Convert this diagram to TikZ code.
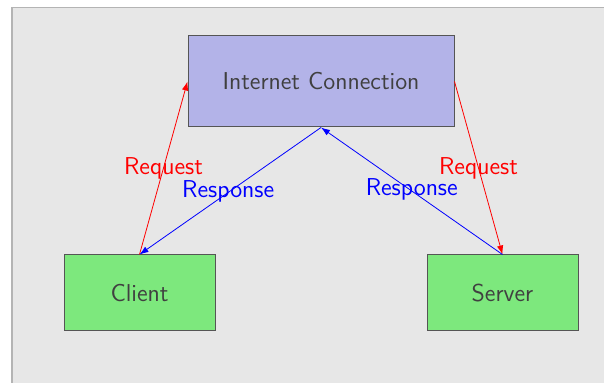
\documentclass[tikz,border=0pt]{standalone}
\usetikzlibrary{arrows.meta}
\definecolor{bgfill}{HTML}{E7E7E7}
\definecolor{bgline}{HTML}{B4B4B4}
\definecolor{netfill}{HTML}{B3B3E8}
\definecolor{hostfill}{HTML}{7DE87D}
\definecolor{boxline}{HTML}{555555}
\definecolor{boxtext}{HTML}{404040}
\begin{document}
\begin{tikzpicture}[x=0.5pt,y=-0.5pt,
  box/.style={draw=boxline,line width=0.5pt,inner sep=0pt,text=boxtext,
    font=\sffamily\fontsize{12.2}{14}\selectfont},
  netbox/.style={box,fill=netfill,minimum width=133pt,minimum height=45.5pt},
  hostbox/.style={box,fill=hostfill,minimum width=75.5pt,minimum height=38pt},
  req/.style={draw=red,line width=0.4pt,-{Latex[length=4.5pt,width=3.2pt]}},
  resp/.style={draw=blue,line width=0.4pt,-{Latex[length=4.5pt,width=3.2pt]}},
  lbl/.style={font=\sffamily\fontsize{12.2}{14}\selectfont,inner sep=0pt}]
\useasboundingbox (0,0) rectangle (604,383);
\draw[fill=bgfill,draw=bgline,line width=0.6pt] (12,7.5) rectangle (620,400);
\node[netbox] (net) at (321,81.5) {Internet Connection};
\node[hostbox] (client) at (139.5,293) {Client};
\node[hostbox] (server) at (502.5,293) {Server};
\draw[req] (client.north) -- node[lbl,text=red] {Request} (net.west);
\draw[resp] (net.south) -- node[lbl,text=blue,xshift=-1pt] {Response} (client.north);
\draw[req] (net.east) -- node[lbl,text=red] {Request} (server.north);
\draw[resp] (server.north) -- node[lbl,text=blue,yshift=1pt] {Response} (net.south);
\end{tikzpicture}
\end{document}
